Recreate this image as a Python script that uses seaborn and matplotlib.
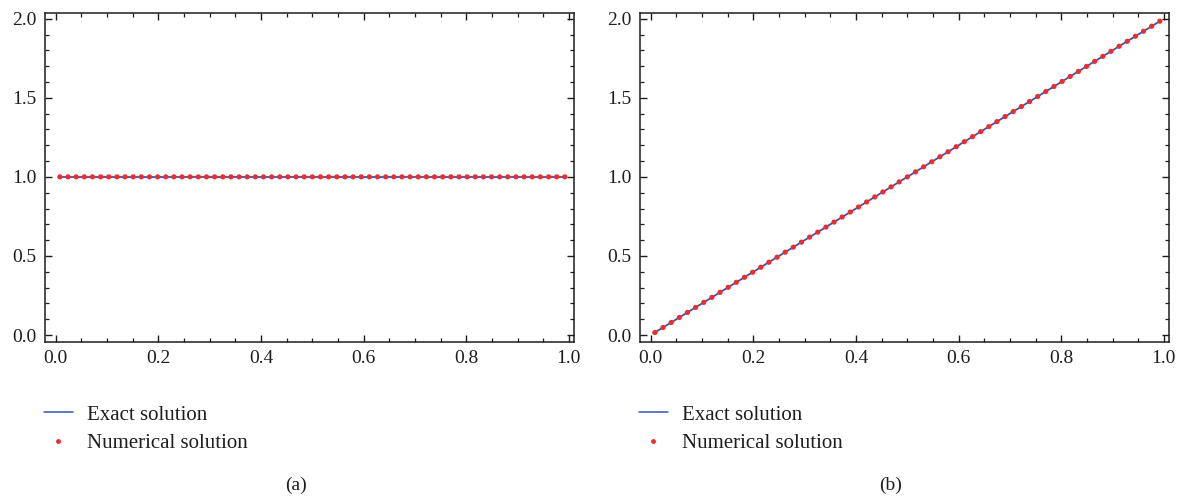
import numpy as np
import pandas as pd
import matplotlib
matplotlib.use("Agg")
import matplotlib.pyplot as plt
from matplotlib.ticker import MultipleLocator
from matplotlib.lines import Line2D
import seaborn as sns

# Data: 63 nodes in (0, 1)
x_nodes = [(i - 0.5) / 63 for i in range(1, 64)]
exact_a = [1.0 for _ in x_nodes]
numerical_a = [1.0 for _ in x_nodes]
exact_b = [2 * v for v in x_nodes]
numerical_b = [2 * v for v in x_nodes]
panel_labels = ["(a)", "(b)"]
legend_labels = ["Exact solution", "Numerical solution"]

sns.set_theme(style="ticks")
plt.rcParams["font.family"] = ["Liberation Serif", "DejaVu Serif"]
plt.rcParams["mathtext.fontset"] = "stix"

LINE_C = "#3456b0"
DOT_C = "#ee2b2f"
TXT = "#1e1e1e"

fig = plt.figure(figsize=(11.86, 4.96), dpi=100)
W, H = 1186, 496
ax_a = fig.add_axes([45 / W, 1 - 342 / H, 529 / W, 329 / H])
ax_b = fig.add_axes([640 / W, 1 - 342 / H, 529 / W, 329 / H])

for ax, ex, nu, lab, lx in [(ax_a, exact_a, numerical_a, panel_labels[0], 44),
                            (ax_b, exact_b, numerical_b, panel_labels[1], 639)]:
    df = pd.DataFrame({"x": x_nodes, "exact": ex, "num": nu})
    sns.lineplot(data=df, x="x", y="exact", ax=ax, color=LINE_C, lw=1.3, zorder=2)
    sns.scatterplot(data=df, x="x", y="num", ax=ax, color=DOT_C, s=14,
                    edgecolor="none", zorder=3)
    ax.set_xlim(-0.021, 1.01)
    ax.set_ylim(-0.044, 2.036)
    ax.set_xlabel("")
    ax.set_ylabel("")
    ax.set_xticks(np.arange(0, 1.01, 0.2))
    ax.set_xticklabels([f"{v:.1f}" for v in np.arange(0, 1.01, 0.2)])
    ax.set_yticks(np.arange(0, 2.01, 0.5))
    ax.set_yticklabels([f"{v:.1f}" for v in np.arange(0, 2.01, 0.5)])
    ax.xaxis.set_minor_locator(MultipleLocator(0.05))
    ax.yaxis.set_minor_locator(MultipleLocator(0.1))
    ax.tick_params(which="both", direction="in", top=True, right=True,
                   colors=TXT, labelsize=14, labelcolor=TXT)
    ax.tick_params(which="major", length=5, width=1.0, pad=6)
    ax.tick_params(which="minor", length=3, width=0.9)
    for s in ax.spines.values():
        s.set_linewidth(1.1)
        s.set_color(TXT)
    ax.grid(False)

    handles = [Line2D([], [], color=LINE_C, lw=1.1),
               Line2D([], [], color=DOT_C, marker="o", ls="none", markersize=3.5,
                      markeredgewidth=0)]
    fig.legend(handles, legend_labels, loc="upper left",
               bbox_to_anchor=(lx / W, 1 - 405 / H),
               frameon=False, fontsize=15, handlelength=1.39, handletextpad=0.66,
               labelspacing=0.42, borderaxespad=0, borderpad=0,
               labelcolor=TXT)
    fig.text((lx + 252) / W, 1 - 485 / H, lab, ha="center", va="center",
             fontsize=14, color=TXT)

fig.savefig("out.png", dpi=100, facecolor="white")
